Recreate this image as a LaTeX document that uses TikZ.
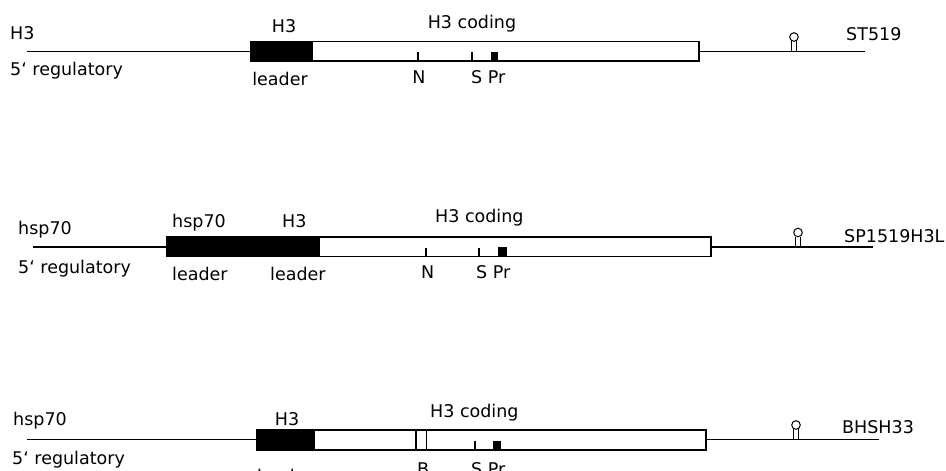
\documentclass[tikz,border=0pt]{standalone}
\usepackage{fontspec}
\newfontfamily\labelfont{DejaVu Sans}
\begin{document}
\begin{tikzpicture}[x=1pt,y=-1pt,
  lbl/.style={font=\labelfont\fontsize{17.5}{20}\selectfont, inner sep=0pt},
  dna/.style={line width=1.3pt},
  coding/.style={draw, line width=1.1pt, fill=white},
  leaderbox/.style={fill=black},
  sitetick/.style={line width=1.1pt},
  prbox/.style={fill=black},
  hairpin/.pic={
    \draw[line width=1pt] (-2.2,0) -- (-2.2,-10.4) (2.2,0) -- (2.2,-10.4);
    \draw[line width=1pt, fill=white] (0,-14.5) circle[radius=4.3pt];
  }
]
\clip (0,0) rectangle (946,471);

% ---------- ST519 ----------
\draw[dna] (27,51.5) -- (251,51.5);
\draw[coding] (251,41.5) rectangle (699,61);
\fill[leaderbox] (251,41.5) rectangle (313,61);
\draw[sitetick] (418,52) -- (418,61);
\draw[sitetick] (472,52) -- (472,61);
\fill[prbox] (491,52) rectangle (498,61);
\draw[dna] (699,51.5) -- (865,51.5);
\pic at (794,51.5) {hairpin};

\node[lbl, anchor=base west] (aprom) at (10,39) {H3};
\node[lbl, anchor=base west] (areg) at (10,75) {5‘ regulatory};
\node[lbl, anchor=base] (ah3) at (284,32) {H3};
\node[lbl, anchor=base] (alead) at (280,85) {leader};
\node[lbl, anchor=base] (acod) at (472,28) {H3 coding};
\node[lbl, anchor=base] (an) at (419,83) {N};
\node[lbl, anchor=base west] (aspr) at (471,83) {S Pr};
\node[lbl, anchor=base west] (aname) at (846,41) {ST519};

% ---------- SP1519H3L ----------
\draw[dna] (33,247) -- (167,247);
\draw[coding] (167,237) rectangle (711,256.5);
\fill[leaderbox] (167,237) rectangle (320,256.5);
\draw[sitetick] (426,248) -- (426,256.5);
\draw[sitetick] (479,248) -- (479,256.5);
\fill[prbox] (498,247) rectangle (507,256.5);
\draw[dna] (711,247) -- (873,247);
\pic at (798,247) {hairpin};

\node[lbl, anchor=base west] (bprom) at (18,234) {hsp70};
\node[lbl, anchor=base west] (breg) at (18,273) {5‘ regulatory};
\node[lbl, anchor=base west] (bhsp) at (172,227) {hsp70};
\node[lbl, anchor=base west] (bh3) at (282,227) {H3};
\node[lbl, anchor=base west] (bleada) at (172,280) {leader};
\node[lbl, anchor=base west] (bleadb) at (270,280) {leader};
\node[lbl, anchor=base west] (bcod) at (435,222) {H3 coding};
\node[lbl, anchor=base west] (bn) at (421,278) {N};
\node[lbl, anchor=base west] (bspr) at (476,278) {S Pr};
\node[lbl, anchor=base west] (bname) at (844,242) {SP1519H3L};

% ---------- BHSH33 ----------
\draw[dna] (27,439.5) -- (257,439.5);
\draw[coding] (257,430) rectangle (706,450);
\fill[leaderbox] (257,430) rectangle (315,450);
\draw[sitetick] (416,430) -- (416,450);
\draw[sitetick] (426.5,430) -- (426.5,450);
\draw[sitetick] (475,441) -- (475,450);
\fill[prbox] (493,441) rectangle (501,450);
\draw[dna] (706,439.5) -- (879,439.5);
\pic at (796,439.5) {hairpin};

\node[lbl, anchor=base west] (cprom) at (13,425) {hsp70};
\node[lbl, anchor=base west] (creg) at (12,464) {5‘ regulatory};
\node[lbl, anchor=base] (ch3) at (287,425) {H3};
\node[lbl, anchor=base west] (clead) at (257,482) {leader};
\node[lbl, anchor=base west] (ccod) at (430,417) {H3 coding};
\node[lbl, anchor=base west] (cb) at (417,475) {B};
\node[lbl, anchor=base west] (cspr) at (471,475) {S Pr};
\node[lbl, anchor=base west] (cname) at (842,433) {BHSH33};
\end{tikzpicture}
\end{document}
